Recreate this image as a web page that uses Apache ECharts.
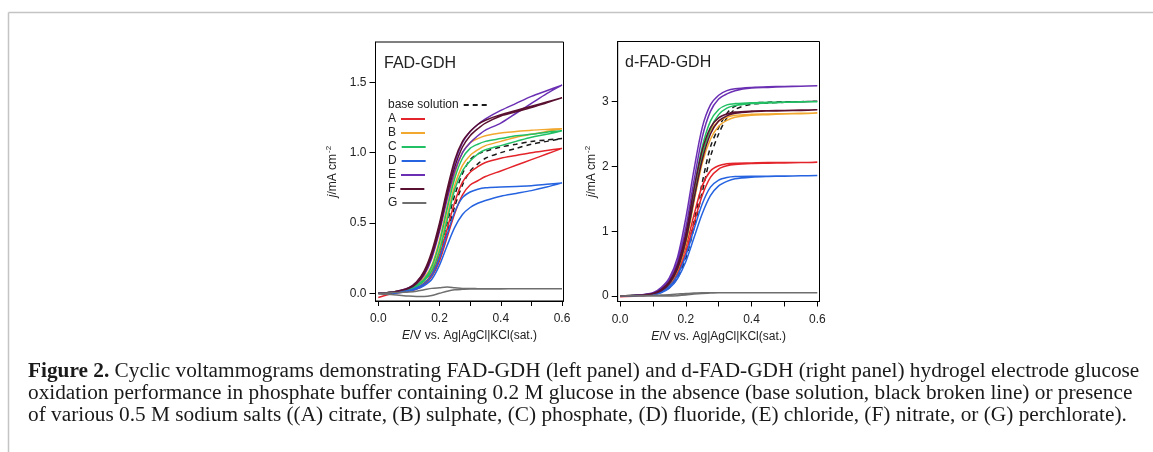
<!DOCTYPE html>
<html><head><meta charset="utf-8">
<script src="https://cdn.jsdelivr.net/npm/echarts@6/dist/echarts.min.js"></script>
<style>html,body{margin:0;padding:0;background:#fff}#c{width:1153px;height:452px}</style>
</head><body><div id="c"></div>
<script>
// Potential grid (V vs Ag|AgCl|KCl(sat.)) – shared by all sweeps
const potential = [0, 0.05, 0.1, 0.125, 0.15, 0.175, 0.2, 0.225, 0.25, 0.275, 0.3, 0.325, 0.35, 0.4, 0.45, 0.5, 0.55, 0.6];

const seriesNames = ['base solution', 'A', 'B', 'C', 'D', 'E', 'F', 'G'];

// ---- FAD-GDH (left panel), j / mA cm-2; "Hi" = upper branch, "Lo" = lower branch
const fadBaseHi = [0, 0.01, 0.025, 0.05, 0.09, 0.16, 0.3, 0.5, 0.7, 0.85, 0.95, 0.99, 1.01, 1.04, 1.06, 1.08, 1.09, 1.10];
const fadBaseLo = [0, 0.005, 0.02, 0.04, 0.07, 0.13, 0.25, 0.43, 0.62, 0.77, 0.87, 0.92, 0.96, 1.0, 1.03, 1.06, 1.08, 1.10];
const fadAHi = [0, 0.005, 0.02, 0.04, 0.07, 0.14, 0.27, 0.46, 0.65, 0.79, 0.86, 0.9, 0.93, 0.96, 0.98, 1.0, 1.015, 1.03];
const fadALo = [-0.03, 0.0, 0.015, 0.03, 0.06, 0.12, 0.23, 0.4, 0.57, 0.7, 0.77, 0.8, 0.83, 0.87, 0.91, 0.95, 0.99, 1.03];
const fadBHi = [0, 0.01, 0.03, 0.06, 0.11, 0.2, 0.38, 0.62, 0.85, 1.0, 1.07, 1.1, 1.12, 1.14, 1.15, 1.16, 1.165, 1.17];
const fadBLo = [0, 0.005, 0.025, 0.05, 0.09, 0.17, 0.32, 0.55, 0.77, 0.91, 0.98, 1.02, 1.05, 1.08, 1.11, 1.13, 1.15, 1.165];
const fadCHi = [0, 0.01, 0.03, 0.06, 0.1, 0.19, 0.36, 0.6, 0.82, 0.96, 1.03, 1.06, 1.08, 1.1, 1.12, 1.13, 1.145, 1.155];
const fadCLo = [0, 0.005, 0.025, 0.05, 0.09, 0.16, 0.3, 0.52, 0.74, 0.87, 0.94, 0.99, 1.02, 1.05, 1.08, 1.11, 1.13, 1.15];
const fadDHi = [0, 0.005, 0.02, 0.04, 0.07, 0.13, 0.25, 0.42, 0.58, 0.68, 0.72, 0.74, 0.75, 0.755, 0.76, 0.765, 0.775, 0.785];
const fadDLo = [0, 0.0, 0.015, 0.03, 0.055, 0.1, 0.2, 0.34, 0.47, 0.56, 0.61, 0.64, 0.66, 0.69, 0.71, 0.73, 0.755, 0.78];
const fadEHi = [0, 0.01, 0.04, 0.08, 0.15, 0.28, 0.48, 0.72, 0.93, 1.07, 1.15, 1.2, 1.24, 1.3, 1.35, 1.4, 1.44, 1.48];
const fadELo = [0, 0.01, 0.035, 0.07, 0.13, 0.25, 0.44, 0.67, 0.87, 1.0, 1.07, 1.12, 1.16, 1.21, 1.28, 1.35, 1.42, 1.48];
const fadFHi = [0, 0.01, 0.04, 0.08, 0.16, 0.3, 0.5, 0.74, 0.95, 1.08, 1.15, 1.2, 1.23, 1.27, 1.3, 1.33, 1.36, 1.39];
const fadFLo = [0, 0.01, 0.035, 0.07, 0.14, 0.27, 0.46, 0.7, 0.9, 1.04, 1.12, 1.17, 1.21, 1.26, 1.29, 1.32, 1.355, 1.39];
const fadGHi = [0, 0.005, 0.01, 0.015, 0.025, 0.035, 0.04, 0.045, 0.04, 0.035, 0.035, 0.033, 0.032, 0.032, 0.032, 0.032, 0.032, 0.032];
const fadGLo = [-0.005, -0.01, -0.02, -0.022, -0.022, -0.015, 0.0, 0.015, 0.025, 0.028, 0.03, 0.03, 0.031, 0.031, 0.032, 0.032, 0.032, 0.032];

// ---- d-FAD-GDH (right panel)
const dfadBaseHi = [0, 0.01, 0.03, 0.07, 0.15, 0.32, 0.65, 1.15, 1.75, 2.3, 2.6, 2.82, 2.93, 2.98, 2.99, 3.0, 3.0, 3.01];
const dfadBaseLo = [0, 0.01, 0.025, 0.06, 0.13, 0.28, 0.58, 1.05, 1.6, 2.15, 2.5, 2.75, 2.88, 2.96, 2.98, 2.99, 3.0, 3.01];
const dfadAHi = [0, 0.01, 0.03, 0.08, 0.18, 0.38, 0.75, 1.25, 1.7, 1.93, 2.01, 2.04, 2.05, 2.055, 2.06, 2.06, 2.06, 2.065];
const dfadALo = [-0.01, 0.0, 0.02, 0.06, 0.15, 0.33, 0.66, 1.12, 1.55, 1.83, 1.96, 2.01, 2.03, 2.045, 2.05, 2.055, 2.06, 2.065];
const dfadBHi = [0, 0.01, 0.04, 0.09, 0.2, 0.45, 0.9, 1.6, 2.2, 2.55, 2.7, 2.76, 2.79, 2.805, 2.81, 2.815, 2.82, 2.825];
const dfadBLo = [0, 0.01, 0.03, 0.08, 0.18, 0.4, 0.8, 1.45, 2.05, 2.42, 2.62, 2.71, 2.76, 2.79, 2.8, 2.81, 2.815, 2.825];
const dfadCHi = [0, 0.01, 0.04, 0.1, 0.22, 0.48, 0.95, 1.65, 2.3, 2.7, 2.88, 2.95, 2.97, 2.985, 2.99, 2.995, 3.0, 3.0];
const dfadCLo = [0, 0.01, 0.035, 0.08, 0.19, 0.42, 0.85, 1.5, 2.15, 2.58, 2.8, 2.9, 2.94, 2.97, 2.98, 2.99, 2.995, 3.0];
const dfadDHi = [0, 0.01, 0.03, 0.07, 0.15, 0.32, 0.62, 1.03, 1.42, 1.68, 1.79, 1.83, 1.845, 1.85, 1.85, 1.852, 1.855, 1.86];
const dfadDLo = [0, 0.005, 0.02, 0.05, 0.12, 0.27, 0.53, 0.9, 1.27, 1.55, 1.7, 1.77, 1.81, 1.835, 1.845, 1.85, 1.855, 1.86];
const dfadEHi = [0, 0.01, 0.05, 0.13, 0.28, 0.6, 1.2, 1.95, 2.6, 2.95, 3.1, 3.17, 3.2, 3.22, 3.23, 3.235, 3.24, 3.245];
const dfadELo = [0, 0.01, 0.04, 0.11, 0.24, 0.52, 1.05, 1.78, 2.45, 2.85, 3.04, 3.12, 3.17, 3.21, 3.22, 3.23, 3.24, 3.245];
const dfadFHi = [0, 0.01, 0.04, 0.1, 0.22, 0.48, 0.95, 1.65, 2.25, 2.6, 2.75, 2.81, 2.84, 2.855, 2.86, 2.865, 2.87, 2.875];
const dfadFLo = [0, 0.01, 0.035, 0.08, 0.19, 0.42, 0.85, 1.5, 2.1, 2.5, 2.7, 2.78, 2.82, 2.845, 2.855, 2.86, 2.865, 2.875];
const dfadGHi = [0, 0.005, 0.01, 0.015, 0.02, 0.03, 0.04, 0.045, 0.05, 0.05, 0.05, 0.05, 0.05, 0.05, 0.05, 0.05, 0.05, 0.05];
const dfadGLo = [0, 0, 0, 0, 0, 0.005, 0.015, 0.03, 0.04, 0.045, 0.05, 0.05, 0.05, 0.05, 0.05, 0.05, 0.05, 0.05];

// tick values
const xTickValues = [0, 0.1, 0.2, 0.3, 0.4, 0.5, 0.6];
const xLabelValues = [0, 0.2, 0.4, 0.6];
const leftYTicks = [0, 0.5, 1.0, 1.5];
const rightYTicks = [0, 1, 2, 3];

const colors = {
  'base solution': '#1a1a1a', A: '#e3242b', B: '#f2a72e', C: '#22c064',
  D: '#2563e0', E: '#6a2fb3', F: '#5a1030', G: '#6e6e6e'
};

const fadData = {
  'base solution': [fadBaseHi, fadBaseLo], A: [fadAHi, fadALo], B: [fadBHi, fadBLo], C: [fadCHi, fadCLo],
  D: [fadDHi, fadDLo], E: [fadEHi, fadELo], F: [fadFHi, fadFLo], G: [fadGHi, fadGLo]
};
const dfadData = {
  'base solution': [dfadBaseHi, dfadBaseLo], A: [dfadAHi, dfadALo], B: [dfadBHi, dfadBLo], C: [dfadCHi, dfadCLo],
  D: [dfadDHi, dfadDLo], E: [dfadEHi, dfadELo], F: [dfadFHi, dfadFLo], G: [dfadGHi, dfadGLo]
};

function loop(hi, lo) {
  const fwd = potential.map((x, i) => [x, hi[i]]);
  const back = potential.map((x, i) => [x, lo[i]]).reverse();
  return fwd.concat(back);
}

const series = [];
[fadData, dfadData].forEach((set, panel) => {
  seriesNames.forEach(name => {
    series.push({
      name, type: 'line', xAxisIndex: panel, yAxisIndex: panel,
      data: loop(set[name][0], set[name][1]),
      showSymbol: false, symbol: 'none', smooth: 0.3,
      color: colors[name],
      lineStyle: { width: 1.5, color: colors[name], type: name === 'base solution' ? [5, 4] : 'solid' },
      emphasis: { disabled: true }, animation: false
    });
  });
});

const sans = 'Liberation Sans, Arial, sans-serif';
const axisFont = { fontFamily: sans, fontSize: 12, color: '#222' };

function xAxis(grid, min, max) {
  return {
    type: 'value', gridIndex: grid, min, max,
    axisLine: { show: true, onZero: false, lineStyle: { color: '#000', width: 1 } },
    axisTick: { show: true, inside: false, length: 5, customValues: xTickValues, lineStyle: { color: '#000' } },
    axisLabel: Object.assign({ margin: 12, customValues: xLabelValues, formatter: v => v.toFixed(1) }, axisFont),
    splitLine: { show: false },
    name: '{i|E}/V vs. Ag|AgCl|KCl(sat.)', nameLocation: 'middle', nameGap: 26,
    nameTextStyle: Object.assign({ rich: { i: Object.assign({ fontStyle: 'italic' }, axisFont) } }, axisFont)
  };
}
function yAxis(grid, min, max, ticks, digits, gap) {
  return {
    type: 'value', gridIndex: grid, min, max,
    axisLine: { show: true, onZero: false, lineStyle: { color: '#000', width: 1 } },
    axisTick: { show: true, inside: false, length: 6, customValues: ticks, lineStyle: { color: '#000' } },
    axisLabel: Object.assign({ margin: 9, customValues: ticks, formatter: v => v.toFixed(digits) }, axisFont),
    splitLine: { show: false },
    name: '{i|j}/mA cm{s|-2}', nameLocation: 'middle', nameGap: gap, nameRotate: 90,
    nameTextStyle: Object.assign({
      rich: {
        i: Object.assign({ fontStyle: 'italic' }, axisFont),
        s: Object.assign({}, axisFont, { fontSize: 8, verticalAlign: 'top', padding: [0, 0, 8, 1] })
      }
    }, axisFont)
  };
}

const captionText =
  '{b|Figure 2.} Cyclic voltammograms demonstrating FAD-GDH (left panel) and d-FAD-GDH (right panel) hydrogel electrode glucose\n' +
  'oxidation performance in phosphate buffer containing 0.2 M glucose in the absence (base solution, black broken line) or presence\n' +
  'of various 0.5 M sodium salts ((A) citrate, (B) sulphate, (C) phosphate, (D) fluoride, (E) chloride, (F) nitrate, or (G) perchlorate).';

const serif = 'Liberation Serif, Times New Roman, serif';

const legends = seriesNames.map((name, i) => ({
  data: [name], left: 388, top: 99 + i * 14, orient: 'horizontal', align: 'right', padding: 0,
  itemWidth: 24, itemHeight: 11, selectedMode: false,
  itemStyle: { opacity: 0, color: 'rgba(0,0,0,0)', borderWidth: 0 },
  textStyle: { fontFamily: sans, fontSize: 12, color: '#222' }
}));

const option = {
  backgroundColor: '#fff',
  animation: false,
  grid: [
    { left: 375.5, top: 42, width: 188, height: 259, show: true, borderColor: '#000', borderWidth: 1, containLabel: false },
    { left: 617.7, top: 41.5, width: 201.8, height: 260, show: true, borderColor: '#000', borderWidth: 1, containLabel: false }
  ],
  xAxis: [xAxis(0, -0.0091, 0.6049), xAxis(1, -0.007, 0.6067)],
  yAxis: [yAxis(0, -0.0547, 1.7865, leftYTicks, 1, 35), yAxis(1, -0.085, 3.929, rightYTicks, 0, 18)],
  title: [
    { text: 'FAD-GDH', left: 384, top: 56, padding: 0, textStyle: { fontFamily: sans, fontSize: 16, fontWeight: 'normal', color: '#222' } },
    { text: 'd-FAD-GDH', left: 625, top: 55, padding: 0, textStyle: { fontFamily: sans, fontSize: 16, fontWeight: 'normal', color: '#222' } },
    { text: captionText, left: 28, top: 360, padding: 0, textStyle: { fontFamily: serif, fontSize: 21.3, fontWeight: 'normal', lineHeight: 22, color: '#1a1a1a',
        rich: { b: { fontFamily: serif, fontSize: 21.3, fontWeight: 'bold', lineHeight: 22, color: '#1a1a1a' } } } }
  ],
  legend: legends,
  graphic: [
    { type: 'line', shape: { x1: 8.5, y1: 12.5, x2: 1153, y2: 12.5 }, style: { stroke: '#c4c4c4', lineWidth: 1.5 } },
    { type: 'line', shape: { x1: 8.5, y1: 12.5, x2: 8.5, y2: 452 }, style: { stroke: '#c4c4c4', lineWidth: 1.5 } }
  ],
  series
};

const chart = echarts.init(document.getElementById('c'), null, { renderer: 'canvas' });
chart.setOption(option);
</script></body></html>
